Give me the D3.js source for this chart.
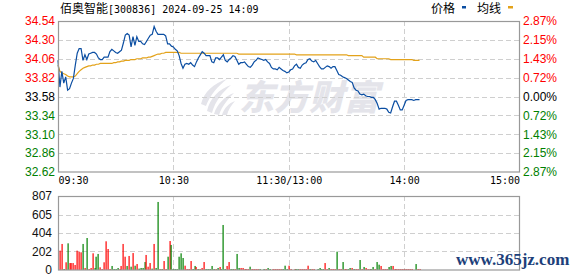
<!DOCTYPE html>
<html><head><meta charset="utf-8">
<script src="https://cdn.jsdelivr.net/npm/d3@7"></script>
<style>body{margin:0;background:#fff}svg{display:block}</style>
</head><body>
<script>
const titleName = "佰奥智能";
const titleRest = "[300836] 2024-09-25 14:09";
const legendLabels = ["价格", "均线"];
const preClose = 33.58;
const priceTicks = [34.54, 34.30, 34.06, 33.82, 33.58, 33.34, 33.10, 32.86, 32.62];
const pctLabels = ["2.87%", "2.15%", "1.43%", "0.72%", "0.00%", "0.72%", "1.43%", "2.15%", "2.87%"];
const volTicks = [0, 202, 404, 605, 807];
const timeIdx = [0, 60, 120, 180, 240];
const timeLabels = ["09:30", "10:30", "11:30/13:00", "14:00", "15:00"];

const price = [
34.04,33.70,33.90,33.75,33.83,33.66,33.68,33.75,33.81,33.98,
34.13,34.19,34.19,34.04,34.11,34.05,34.12,34.13,34.14,34.14,
34.12,34.07,34.05,34.05,34.08,34.08,34.08,34.15,34.18,34.16,
34.14,34.13,34.15,34.17,34.26,34.36,34.38,34.36,34.21,34.34,
34.23,34.34,34.28,34.28,34.25,34.24,34.28,34.32,34.36,34.37,
34.47,34.41,34.37,34.37,34.37,34.37,34.35,34.25,34.25,34.22,
34.21,34.18,34.16,34.10,34.00,33.94,33.99,34.00,33.99,34.01,
33.98,33.96,34.02,34.07,34.11,34.15,34.13,34.10,34.10,34.10,
34.02,34.01,34.07,34.07,34.05,34.08,34.11,34.04,34.02,34.05,
34.07,34.10,34.09,34.04,33.99,34.01,34.01,34.02,33.99,33.96,
33.95,33.98,34.02,34.04,34.07,34.06,34.05,34.04,34.05,34.02,
34.00,33.95,33.93,33.93,33.92,33.95,33.93,33.91,33.90,33.88,
33.89,33.92,33.93,33.97,33.99,33.95,33.94,33.98,34.00,34.01,
34.05,34.06,34.03,34.02,34.04,34.00,33.96,33.93,33.93,33.95,
33.97,33.96,33.94,33.96,33.96,33.91,33.86,33.85,33.83,33.82,
33.81,33.79,33.77,33.76,33.69,33.66,33.65,33.61,33.60,33.61,
33.59,33.58,33.58,33.57,33.57,33.54,33.49,33.42,33.43,33.43,
33.43,33.42,33.38,33.37,33.45,33.52,33.52,33.47,33.41,33.41,
33.47,33.53,33.54,33.54,33.54,33.53,33.54,33.54,33.54
];
const avg = [
33.98,33.90,33.88,33.87,33.86,33.84,33.83,33.83,33.83,33.84,
33.87,33.90,33.92,33.94,33.95,33.96,33.97,33.97,33.98,33.98,
33.99,33.99,34.00,34.00,34.00,34.00,34.00,34.00,34.00,34.01,
34.01,34.02,34.02,34.03,34.03,34.04,34.04,34.04,34.05,34.05,
34.05,34.06,34.06,34.06,34.07,34.07,34.07,34.08,34.08,34.09,
34.10,34.11,34.12,34.12,34.13,34.13,34.14,34.14,34.14,34.14,
34.14,34.14,34.14,34.14,34.13,34.13,34.13,34.13,34.13,34.13,
34.13,34.13,34.13,34.13,34.13,34.13,34.13,34.13,34.13,34.13,
34.13,34.13,34.13,34.13,34.13,34.13,34.13,34.13,34.13,34.13,
34.13,34.13,34.13,34.13,34.12,34.12,34.12,34.12,34.12,34.12,
34.12,34.12,34.12,34.12,34.12,34.12,34.12,34.12,34.12,34.12,
34.12,34.12,34.12,34.12,34.12,34.12,34.12,34.12,34.12,34.12,
34.12,34.12,34.12,34.12,34.11,34.11,34.11,34.11,34.11,34.11,
34.11,34.11,34.11,34.11,34.11,34.11,34.11,34.11,34.11,34.11,
34.11,34.11,34.11,34.11,34.11,34.11,34.11,34.11,34.11,34.11,
34.11,34.10,34.10,34.10,34.10,34.10,34.10,34.10,34.10,34.08,
34.08,34.08,34.08,34.08,34.08,34.08,34.06,34.06,34.06,34.06,
34.06,34.06,34.06,34.05,34.05,34.05,34.05,34.05,34.05,34.05,
34.05,34.05,34.05,34.05,34.05,34.04,34.04,34.04,34.04
];
const volume = [
0,211,284,11,84,291,76,76,76,55,
211,200,193,284,22,349,11,22,182,22,
145,175,29,11,84,313,229,11,44,11,
11,22,11,44,284,145,44,153,36,185,
47,65,15,22,22,87,164,36,76,15,
284,22,742,11,11,98,11,145,316,273,
11,11,11,145,182,131,47,11,11,98,
11,44,33,11,11,22,87,11,11,11,
44,11,11,22,33,11,491,11,44,87,
11,11,11,175,22,22,22,11,11,11,
36,11,11,11,11,11,0,11,11,22,
11,0,11,11,11,11,11,11,47,11,
47,11,0,11,11,11,11,11,11,11,
47,11,11,11,0,11,22,11,11,76,
11,22,11,11,11,200,11,11,87,11,
11,11,22,22,11,11,11,109,11,33,
22,11,11,11,33,11,87,58,44,11,
11,11,33,44,44,11,11,11,11,11,
11,11,11,11,11,0,65,11,11
];
const volDir = [
1,1,1,-1,1,-1,1,1,1,1,
1,1,1,-1,1,-1,1,1,1,-1,
-1,-1,1,1,1,1,1,1,-1,-1,
-1,-1,1,1,1,1,-1,1,-1,1,
-1,1,-1,-1,-1,-1,1,1,1,-1,
1,-1,-1,1,-1,1,1,-1,1,-1,
-1,-1,-1,-1,-1,-1,1,1,1,1,
-1,-1,1,-1,1,1,1,-1,-1,-1,
-1,-1,1,-1,1,-1,-1,-1,1,1,
-1,-1,1,-1,-1,1,1,1,1,1,
-1,1,1,1,1,-1,1,-1,1,-1,
-1,1,1,1,1,1,1,-1,-1,-1,
1,1,1,1,-1,-1,1,1,1,1,
1,-1,1,1,1,-1,-1,-1,-1,1,
1,-1,1,1,1,-1,1,1,-1,1,
1,-1,-1,1,-1,1,1,-1,1,-1,
1,1,1,-1,-1,1,-1,-1,1,1,
1,1,-1,-1,1,1,1,1,1,1,
1,1,1,1,1,1,-1,1,1
];

const W = 578, H = 276;
const L = 58, R = 519.5, PT = 21, PB = 172, VT = 196, VB = 270;
const RED = "#ff0000", GREEN = "#008000", BLACK = "#000000";
const BLUE = "#0b4ea2", GOLD = "#e3a21a";

const svg = d3.select("body").append("svg").attr("width", W).attr("height", H);

const x = d3.scaleLinear().domain([0, 240]).range([L, R]);
const y = d3.scaleLinear().domain([32.62, 34.54]).range([PB, PT]);
const yv = d3.scaleLinear().domain([0, 807]).range([VB, VT]);

// watermark
const wm = svg.append("g").attr("fill", "#e4e4ea");
wm.append("path").attr("d", "M201,104 C204,92 214,83 227,79 C218,86 210,95 206,106 Z");
wm.append("path").attr("d", "M207,111 C210,98 219,89 231,85 C223,92 215,101 212,113 Z");
wm.append("path").attr("d", "M214,114 C217,104 225,96 234,93 C228,99 222,106 219,115 Z");
wm.append("path").attr("d", "M222,115 C224,108 229,103 235,101 C231,106 228,110 227,115 Z");
wm.append("text").attr("x", 239).attr("y", 110)
  .attr("font-family", "Noto Sans CJK SC").attr("font-weight", 900)
  .attr("font-size", 35).attr("font-style", "italic").text("东方财富");

// grids
const grid = svg.append("g").attr("stroke", "#cfcfcf").attr("stroke-dasharray", "5,3").attr("fill", "none");
priceTicks.slice(1, -1).forEach(t => {
  grid.append("line").attr("x1", L).attr("x2", R).attr("y1", Math.round(y(t)) + 0.5).attr("y2", Math.round(y(t)) + 0.5);
});
volTicks.slice(1, -1).forEach(t => {
  grid.append("line").attr("x1", L).attr("x2", R).attr("y1", Math.round(yv(t)) + 0.5).attr("y2", Math.round(yv(t)) + 0.5);
});
timeIdx.slice(1, -1).forEach(t => {
  const xx = Math.round(x(t)) + 0.5;
  grid.append("line").attr("x1", xx).attr("x2", xx).attr("y1", PT).attr("y2", PB);
  grid.append("line").attr("x1", xx).attr("x2", xx).attr("y1", VT).attr("y2", VB);
});

// volume bars
svg.append("g").selectAll("rect").data(volume).join("rect")
  .attr("x", (d, i) => Math.round(x(i)) - 0.5)
  .attr("width", 1.2)
  .attr("y", d => yv(d))
  .attr("height", d => VB - yv(d))
  .attr("fill", (d, i) => volDir[i] > 0 ? RED : GREEN);

// lines
const lineGen = d3.line().x((d, i) => x(i)).y(d => y(d));
svg.append("path").attr("d", lineGen(avg)).attr("fill", "none").attr("stroke", GOLD).attr("stroke-width", 1.2);
svg.append("path").attr("d", lineGen(price)).attr("fill", "none").attr("stroke", BLUE).attr("stroke-width", 1.2);

// borders
svg.append("rect").attr("x", L + 0.5).attr("y", PT + 0.5).attr("width", R - L - 0.5).attr("height", PB - PT - 0.5)
  .attr("fill", "none").attr("stroke", "#999").attr("stroke-width", 1.2);
svg.append("rect").attr("x", L + 0.5).attr("y", VT + 0.5).attr("width", R - L - 0.5).attr("height", VB - VT - 0.5)
  .attr("fill", "none").attr("stroke", "#999").attr("stroke-width", 1.2);

const colorOf = t => t > preClose + 1e-9 ? RED : (t < preClose - 1e-9 ? GREEN : BLACK);

// left price axis
const axL = svg.append("g").attr("transform", `translate(${L},0)`)
  .call(d3.axisLeft(y).tickValues(priceTicks).tickSize(0).tickPadding(3).tickFormat(d3.format(".2f")));
axL.select(".domain").remove();
axL.selectAll("text").attr("font-family", "Liberation Sans, Arial").attr("font-size", 12)
  .attr("fill", d => colorOf(d));

// right pct axis
const axR = svg.append("g").attr("transform", `translate(${R},0)`)
  .call(d3.axisRight(y).tickValues(priceTicks).tickSize(0).tickPadding(3.5).tickFormat((d, i) => pctLabels[i]));
axR.select(".domain").remove();
axR.selectAll("text").attr("font-family", "Liberation Sans, Arial").attr("font-size", 12)
  .attr("fill", d => colorOf(d));

// volume axis
const axV = svg.append("g").attr("transform", `translate(${L - 3},0)`)
  .call(d3.axisLeft(yv).tickValues(volTicks).tickSize(0).tickPadding(3).tickFormat(d3.format("d")));
axV.select(".domain").remove();
axV.selectAll("text").attr("font-family", "Liberation Sans, Arial").attr("font-size", 12).attr("fill", "#111");

// time axis
const axT = svg.append("g").attr("transform", `translate(0,${PB})`)
  .call(d3.axisBottom(x).tickValues(timeIdx).tickSize(0).tickPadding(5).tickFormat((d, i) => timeLabels[i]));
axT.select(".domain").remove();
axT.selectAll("text").attr("font-family", "DejaVu Sans Mono, monospace").attr("font-size", 10).attr("fill", "#000")
  .attr("text-anchor", (d, i) => i === 0 ? "start" : (i === timeIdx.length - 1 ? "end" : "middle"));

// title
const tt = svg.append("text").attr("x", 60).attr("y", 13).attr("fill", "#000");
tt.append("tspan").attr("font-family", "Noto Sans CJK SC").attr("font-size", 12).text(titleName);
tt.append("tspan").attr("font-family", "DejaVu Sans Mono, monospace").attr("font-size", 10).text(titleRest);

// legend
const lg = svg.append("g").attr("font-family", "Noto Sans CJK SC").attr("font-size", 12).attr("fill", "#000");
lg.append("text").attr("x", 431).attr("y", 13).text(legendLabels[0]);
lg.append("rect").attr("x", 462).attr("y", 6).attr("width", 4).attr("height", 2.5).attr("fill", BLUE);
lg.append("text").attr("x", 477).attr("y", 13).text(legendLabels[1]);
lg.append("rect").attr("x", 508).attr("y", 6).attr("width", 5).attr("height", 2.5).attr("fill", GOLD);

// site watermark
svg.append("text").attr("x", 456).attr("y", 265)
  .attr("font-family", "Liberation Serif, serif").attr("font-weight", "bold").attr("font-size", 17)
  .attr("fill", "#1d3f7a").text("www.365jz.com");
</script>
</body></html>
